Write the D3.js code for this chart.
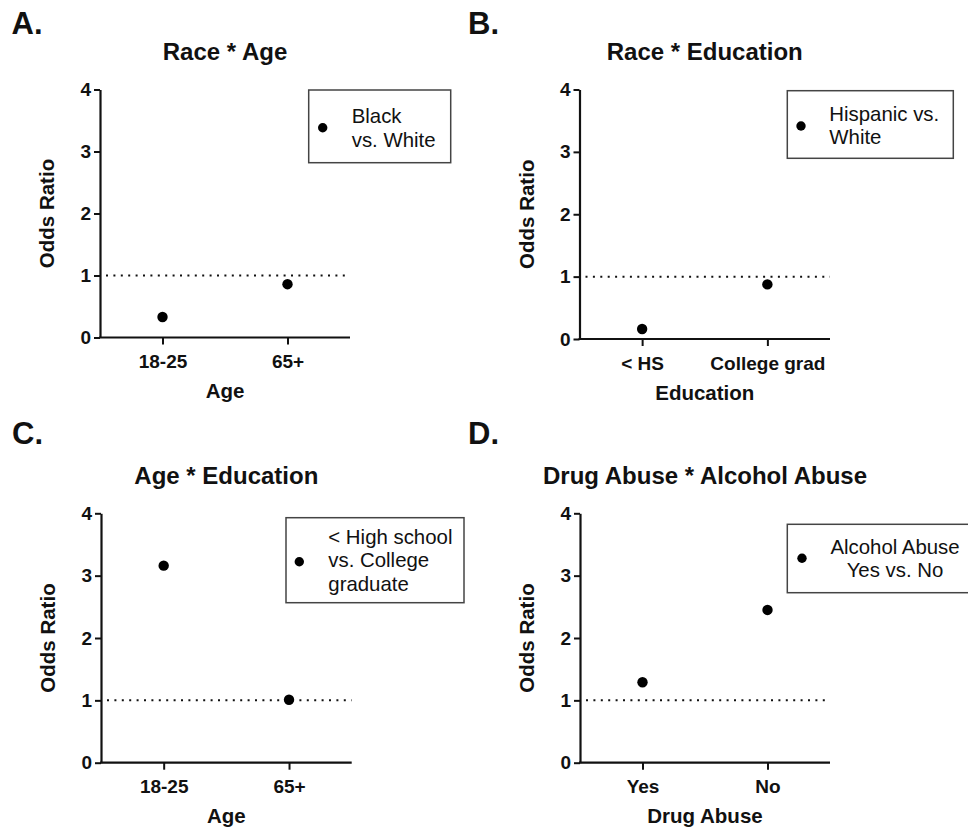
<!DOCTYPE html>
<html>
<head>
<meta charset="utf-8">
<script src="https://cdn.jsdelivr.net/npm/d3@7"></script>
<style>
  html, body { margin: 0; padding: 0; background: #fff; }
  svg { display: block; }
  text { font-family: "Liberation Sans", Arial, sans-serif; fill: #111; }
</style>
</head>
<body>
<svg id="chart" width="968" height="832"></svg>
<script>
// ---------------- data ----------------
const panelLabels = ["A.", "B.", "C.", "D."];
const panelTitles = ["Race * Age", "Race * Education", "Age * Education", "Drug Abuse * Alcohol Abuse"];
const xCategoriesA = ["18-25", "65+"];
const xCategoriesB = ["< HS", "College grad"];
const xCategoriesC = ["18-25", "65+"];
const xCategoriesD = ["Yes", "No"];
const oddsRatioA = [0.33, 0.86];
const oddsRatioB = [0.16, 0.875];
const oddsRatioC = [3.16, 1.01];
const oddsRatioD = [1.29, 2.45];
const xTitles = ["Age", "Education", "Age", "Drug Abuse"];
const yTitle = "Odds Ratio";
const legendA = ["Black", "vs. White"];
const legendB = ["Hispanic vs.", "White"];
const legendC = ["< High school", "vs. College", "graduate"];
const legendD = ["Alcohol Abuse", "Yes vs. No"];
const yTicks = [0, 1, 2, 3, 4];
const yDomain = [0, 4];
const referenceValue = 1;

// ---------------- layout ----------------
const layouts = [
  { label: [11.5, 34.3], x0: 100, x1: 350, yBottom: 337.5, yTop: 89.5,
    legend: { x: 308.7, y: 90, w: 142, h: 72.7, dot: [322.7, 127.7], tx: 351.7, ty: 123.2, anchor: "start" } },
  { label: [468, 34.3], x0: 579.5, x1: 830, yBottom: 339, yTop: 89.5,
    legend: { x: 787.3, y: 90.7, w: 166, h: 67.6, dot: [801, 126], tx: 829.3, ty: 120.8, anchor: "start" } },
  { label: [12, 443.5], x0: 101, x1: 351.7, yBottom: 762.7, yTop: 513.3,
    legend: { x: 286, y: 517.7, w: 178, h: 85, dot: [299.3, 561.7], tx: 328.3, ty: 544, anchor: "start" } },
  { label: [468, 443.5], x0: 580, x1: 830, yBottom: 762.7, yTop: 513.3,
    legend: { x: 787.3, y: 524.3, w: 190, h: 68.4, dot: [802, 558.3], tx: 895, ty: 553.5, anchor: "middle" } }
];

const panels = [
  { cats: xCategoriesA, vals: oddsRatioA, legend: legendA },
  { cats: xCategoriesB, vals: oddsRatioB, legend: legendB },
  { cats: xCategoriesC, vals: oddsRatioC, legend: legendC },
  { cats: xCategoriesD, vals: oddsRatioD, legend: legendD }
];

const svg = d3.select("#chart");
const FONT = '"Liberation Sans", Arial, sans-serif';

panels.forEach((p, i) => {
  const L = layouts[i];
  const g = svg.append("g");

  const x = d3.scalePoint().domain(p.cats).range([L.x0, L.x1]).padding(0.5);
  const y = d3.scaleLinear().domain(yDomain).range([L.yBottom, L.yTop]);

  // panel letter
  g.append("text")
    .attr("x", L.label[0]).attr("y", L.label[1])
    .attr("font-size", 31).attr("font-weight", "bold")
    .text(panelLabels[i]);

  // title
  g.append("text")
    .attr("x", (L.x0 + L.x1) / 2).attr("y", L.yTop - 29.5)
    .attr("text-anchor", "middle")
    .attr("font-size", 24).attr("font-weight", "bold")
    .text(panelTitles[i]);

  // reference dotted line
  g.append("line")
    .attr("x1", L.x0 + 6).attr("x2", L.x1)
    .attr("y1", y(referenceValue)).attr("y2", y(referenceValue))
    .attr("stroke", "#111").attr("stroke-width", 2)
    .attr("stroke-dasharray", "2,5.4");

  // y axis
  const yAxis = g.append("g")
    .attr("transform", `translate(${L.x0},0)`)
    .call(d3.axisLeft(y).tickValues(yTicks).tickFormat(d3.format("d")).tickSize(6).tickPadding(3).tickSizeOuter(0));
  yAxis.select(".domain").attr("stroke", "#111").attr("stroke-width", 2.2);
  yAxis.selectAll(".tick line").attr("stroke", "#111").attr("stroke-width", 2);
  yAxis.selectAll(".tick text")
    .attr("font-size", 19).attr("font-weight", "bold")
    .attr("font-family", FONT).attr("fill", "#111");

  // x axis
  const xAxis = g.append("g")
    .attr("transform", `translate(0,${L.yBottom})`)
    .call(d3.axisBottom(x).tickSize(7).tickSizeOuter(0));
  xAxis.select(".domain").attr("stroke", "#111").attr("stroke-width", 2.2)
    .attr("d", `M${L.x0 - 1},0H${L.x1}`);
  xAxis.selectAll(".tick line").attr("stroke", "#111").attr("stroke-width", 2);
  xAxis.selectAll(".tick text")
    .attr("y", 30.5).attr("dy", 0)
    .attr("font-size", 19).attr("font-weight", "bold")
    .attr("font-family", FONT).attr("fill", "#111");

  // axis titles
  g.append("text")
    .attr("x", (L.x0 + L.x1) / 2).attr("y", L.yBottom + 60.5)
    .attr("text-anchor", "middle")
    .attr("font-size", 20.5).attr("font-weight", "bold")
    .text(xTitles[i]);
  g.append("text")
    .attr("transform", `translate(${L.x0 - 46},${(L.yTop + L.yBottom) / 2}) rotate(-90)`)
    .attr("text-anchor", "middle")
    .attr("font-size", 20.5).attr("font-weight", "bold")
    .text(yTitle);

  // points
  g.selectAll("circle.pt")
    .data(p.cats.map((c, k) => ({ c, v: p.vals[k] })))
    .join("circle")
    .attr("class", "pt")
    .attr("cx", d => x(d.c)).attr("cy", d => y(d.v))
    .attr("r", 5.2).attr("fill", "#000");

  // legend
  const lg = L.legend;
  g.append("rect")
    .attr("x", lg.x).attr("y", lg.y).attr("width", lg.w).attr("height", lg.h)
    .attr("fill", "none").attr("stroke", "#444").attr("stroke-width", 1.5);
  g.append("circle")
    .attr("cx", lg.dot[0]).attr("cy", lg.dot[1]).attr("r", 4.7).attr("fill", "#000");
  const lt = g.append("text")
    .attr("font-size", 20.4).attr("text-anchor", lg.anchor);
  p.legend.forEach((line, k) => {
    lt.append("tspan").attr("x", lg.tx).attr("y", lg.ty + k * 23.3).text(line);
  });
});
</script>
</body>
</html>
